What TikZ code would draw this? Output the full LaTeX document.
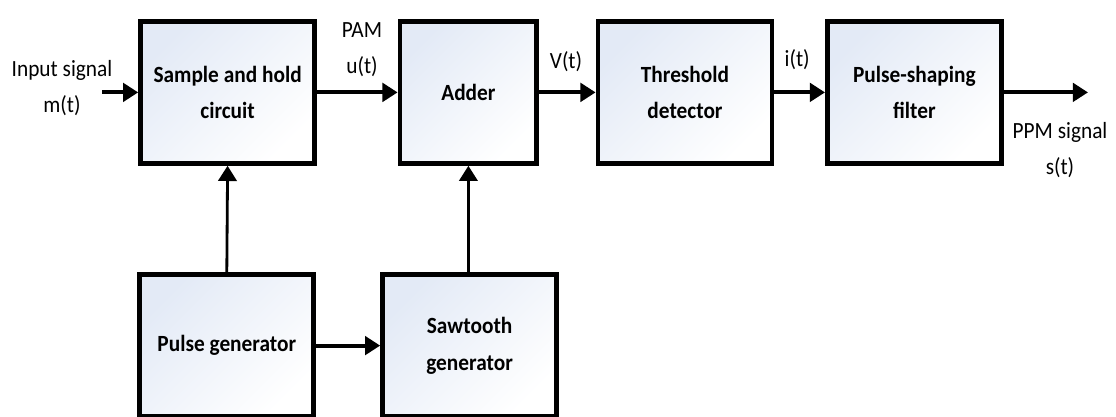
\documentclass[tikz,border=0pt]{standalone}
\usepackage{fontspec}
\setmainfont{Carlito}[FakeStretch=0.92]
\usetikzlibrary{arrows.meta,positioning}
\usepackage{xcolor}
\definecolor{boxblue}{HTML}{E3EAF6}
\definecolor{dark}{HTML}{000000}
\tikzset{
  block/.style={draw=dark, line width=3.4pt, align=center, top color=boxblue, bottom color=white, shading angle=45,
    minimum width=4.35cm, minimum height=3.55cm, font=\fontsize{16.5}{26}\selectfont\bfseries, inner sep=1mm},
  lbl/.style={align=center, font=\fontsize{16.5}{25.5}\selectfont, inner sep=0pt},
  sig/.style={-{Triangle[length=3.8mm,width=4.6mm]}, line width=2.8pt, draw=dark},
  feed/.style={-{Triangle[length=3.8mm,width=4.6mm]}, line width=2pt, draw=dark}
}
\begin{document}
\begin{tikzpicture}
  \useasboundingbox (0,0) rectangle (27.9,-10.425);
  % top row
  \node[block] (sh) at (5.69,-2.31) {Sample and hold\\circuit};
  \node[block, minimum width=3.42cm] (add) at (11.71,-2.31) {Adder};
  \node[block] (thr) at (17.125,-2.31) {Threshold\\detector};
  \node[block] (psf) at (22.86,-2.31) {Pulse-shaping\\filter};
  % bottom row
  \node[block] (pg) at (5.67,-8.64) {Pulse generator};
  \node[block] (saw) at (11.74,-8.64) {Sawtooth\\generator};
  % ends of the chain
  \coordinate (in) at (2.55,-2.31);
  \coordinate (out) at (27.2,-2.31);
  \draw[sig] (in) -- (sh.west);
  \draw[sig] (sh.east) -- (add.west);
  \draw[sig] (add.east) -- (thr.west);
  \draw[sig] (thr.east) -- (psf.west);
  \draw[sig] (psf.east) -- (out);
  \draw[sig] (pg.east) -- (saw.west);
  \draw[feed] (pg.north) -- (sh.south);
  \draw[feed] (saw.north -| add.south) -- (add.south);
  % labels
  \node[lbl] (inlbl) at (1.55,-2.2) {Input signal\\m(t)};
  \node[lbl] (pam) at (9.05,-1.25) {PAM\\u(t)};
  \node[lbl] (vt) at (14.15,-1.55) {V(t)};
  \node[lbl] (it) at (19.93,-1.5) {i(t)};
  \node[lbl] (ppm) at (26.5,-3.75) {PPM signal\\s(t)};
\end{tikzpicture}
\end{document}
